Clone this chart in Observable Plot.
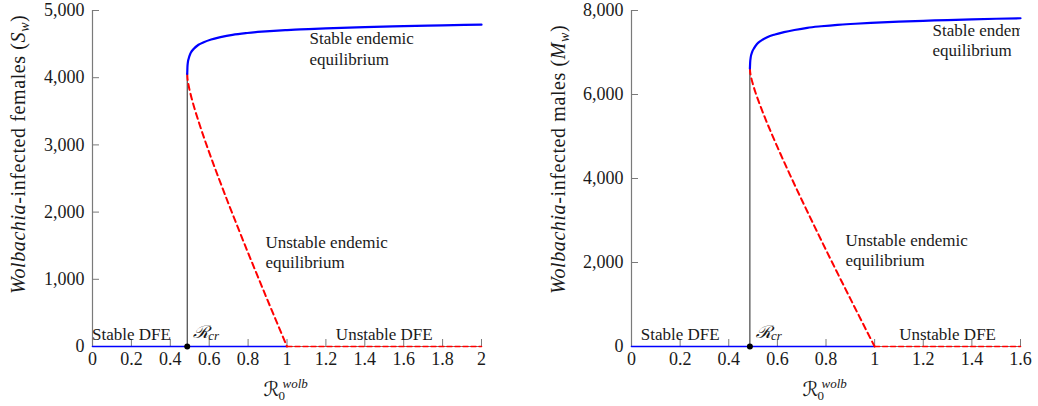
<!DOCTYPE html>
<html>
<head>
<meta charset="utf-8">
<script src="https://cdn.jsdelivr.net/npm/d3@7"></script>
<script src="https://cdn.jsdelivr.net/npm/@observablehq/plot@0.6"></script>
<style>
  html, body { margin: 0; padding: 0; background: #fff; }
  #charts { display: flex; width: 1038px; height: 406px; }
  #charts svg { display: block; }
  #charts svg text {
    font-family: "Liberation Serif", "Tinos", "Times New Roman", "Nimbus Roman", "FreeSerif",
                 "Noto Serif", "DejaVu Serif", "Latin Modern Roman", "CMU Serif", Georgia, serif;
  }
  #charts svg text.script { font-family: "DejaVu Sans", "DejaVu Serif", sans-serif; }
</style>
</head>
<body>
<div id="charts"></div>
<script>
// Critical value of R0^wolb where the two endemic equilibria are born
const rCritical = 0.487;

// Wolbachia-infected females S_w — stable endemic branch
const femStableR = [0.487, 0.488, 0.490, 0.495, 0.505, 0.521, 0.545, 0.572, 0.61, 0.658, 0.72, 0.795, 0.87, 0.932, 1.0, 1.069, 1.2, 1.4, 1.6, 1.8, 2.0];
const femStableS = [4055, 4150, 4220, 4290, 4370, 4430, 4490, 4528, 4568, 4603, 4638, 4665, 4685, 4698, 4709, 4718, 4735, 4753, 4767, 4779, 4790];
// Females — unstable endemic branch
const femUnstableR = [0.487, 0.488, 0.490, 0.494, 0.50, 0.51, 0.525, 0.55, 0.6, 0.65, 0.7, 0.75, 0.8, 0.85, 0.9, 0.95, 1.0];
const femUnstableS = [4055, 4001, 3954, 3887, 3805, 3690, 3538, 3308, 2888, 2497, 2120, 1753, 1393, 1040, 689, 343, 0];

// Wolbachia-infected males M_w — stable endemic branch
const maleStableR = [0.487, 0.488, 0.490, 0.496, 0.505, 0.517, 0.535, 0.558, 0.59, 0.627, 0.67, 0.723, 0.78, 0.847, 0.92, 0.984, 1.1, 1.2, 1.3, 1.4, 1.5, 1.6];
const maleStableM = [6620, 6760, 6870, 7008, 7110, 7207, 7290, 7365, 7430, 7484, 7535, 7588, 7625, 7660, 7685, 7705, 7735, 7755, 7772, 7788, 7803, 7815];
// Males — unstable endemic branch
const maleUnstableR = [0.487, 0.488, 0.490, 0.494, 0.50, 0.51, 0.525, 0.55, 0.6, 0.65, 0.7, 0.75, 0.8, 0.85, 0.9, 0.95, 1.0];
const maleUnstableM = [6620, 6538, 6465, 6360, 6232, 6048, 5804, 5432, 4752, 4112, 3494, 2892, 2299, 1716, 1139, 567, 0];

// Disease-free equilibrium: stable below 1, unstable above
const dfeStableR = [0, 1];
const femDfeUnstableR = [1, 2];
const maleDfeUnstableR = [1, 1.6];

// Tick values
const femXTicks = [0, 0.2, 0.4, 0.6, 0.8, 1, 1.2, 1.4, 1.6, 1.8, 2];
const femYTicks = [0, 1000, 2000, 3000, 4000, 5000];
const maleXTicks = [0, 0.2, 0.4, 0.6, 0.8, 1, 1.2, 1.4, 1.6];
const maleYTicks = [0, 2000, 4000, 6000, 8000];

const zip = (xs, ys) => xs.map((x, i) => ({x, y: ys[i]}));
const axisGray = "#7a7a7a";
const ink = "#1a1a1a";

function panel(cfg) {
  const {width, marginLeft, marginRight, xMax, yMax, xTicks, yTicks,
         stable, unstable, dfeUnstableR, notes} = cfg;
  const fold = stable[0].y;
  return Plot.plot({
    width, height: 406,
    marginLeft, marginRight, marginTop: 10, marginBottom: 60,
    style: {fontSize: "18px", color: ink, background: "white", overflow: "visible"},
    x: {domain: [0, xMax]},
    y: {domain: [0, yMax]},
    marks: [
      // axis lines
      Plot.ruleX([0], {stroke: axisGray, strokeWidth: 1.2}),
      Plot.ruleY([0], {stroke: axisGray, strokeWidth: 1.2}),
      // inward ticks
      Plot.ruleX(xTicks, {x: d => d, y1: 0, y2: 0, insetBottom: 7, stroke: axisGray}),
      Plot.ruleY(yTicks, {y: d => d, x1: 0, x2: 0, insetRight: -7, stroke: axisGray}),
      Plot.axisX(xTicks, {tickSize: 0, tickPadding: 6, label: null, fontSize: 18, fill: ink,
                          tickFormat: d3.format("~g")}),
      Plot.axisY(yTicks, {tickSize: 0, tickPadding: 8, label: null, fontSize: 18, fill: ink,
                          tickFormat: d3.format(",")}),
      // threshold line up to the fold
      Plot.ruleX([rCritical], {y1: 0, y2: fold, stroke: "#222", strokeWidth: 1}),
      // disease-free equilibrium
      Plot.lineY(zip(dfeStableR, [0, 0]), {x: "x", y: "y", stroke: "#0000ff", strokeWidth: 1.6}),
      Plot.lineY(zip(dfeUnstableR, [0, 0]), {x: "x", y: "y", stroke: "#ff0000", strokeWidth: 1.6, strokeDasharray: "5,3"}),
      // endemic equilibria
      Plot.line(unstable, {x: "x", y: "y", stroke: "#ff0000", strokeWidth: 2, strokeDasharray: "6,4", curve: "monotone-x"}),
      Plot.line(stable, {x: "x", y: "y", stroke: "#0000ff", strokeWidth: 2.2, curve: "monotone-x"}),
      Plot.dot([rCritical], {x: d => d, y: 0, r: 3, fill: "#000"}),
      // region labels
      Plot.text(["Stable DFE"], {x: 0.2, y: 0, dy: -7, lineAnchor: "bottom", fontSize: 17, fill: ink}),
      Plot.text(["Unstable DFE"], {x: notes.unstableDfeX, y: 0, dy: -7, lineAnchor: "bottom", fontSize: 17, fill: ink}),
      Plot.text(["ℛ"], {x: rCritical, y: 0, dx: 6, dy: -9, textAnchor: "start", lineAnchor: "bottom", fontSize: 18, fontStyle: "italic", fill: ink, className: "script"}),
      Plot.text(["cr"], {x: rCritical, y: 0, dx: 21, dy: -7, textAnchor: "start", lineAnchor: "bottom", fontSize: 13, fontStyle: "italic", fill: ink}),
      Plot.text(["Stable endemic\nequilibrium"], {x: notes.stable[0], y: notes.stable[1], textAnchor: "start", lineAnchor: "bottom", lineHeight: 1.18, fontSize: 17, fill: ink, clip: true}),
      Plot.text(["Unstable endemic\nequilibrium"], {x: notes.unstable[0], y: notes.unstable[1], textAnchor: "start", lineAnchor: "bottom", lineHeight: 1.18, fontSize: 17, fill: ink})
    ]
  });
}

// x-axis title  ℛ₀^wolb
function addXTitle(svg, cx) {
  const g = d3.select(svg).append("g").attr("fill", ink).attr("text-anchor", "start");
  g.append("text").attr("class", "script").attr("x", cx - 23).attr("y", 396)
    .attr("font-style", "italic").attr("font-size", 20).text("ℛ");
  g.append("text").attr("x", cx - 4).attr("y", 388)
    .attr("font-style", "italic").attr("font-size", 13).text("wolb");
  g.append("text").attr("x", cx - 8).attr("y", 400)
    .attr("font-size", 13).text("0");
}

// y-axis title: Wolbachia-infected <who> (<sym>_w)
function addYTitle(svg, x, yBottom, who, sym) {
  const t = d3.select(svg).append("text")
    .attr("transform", `translate(${x},${yBottom}) rotate(-90)`)
    .attr("text-anchor", "start").attr("font-size", 20).attr("letter-spacing", 0.6).attr("fill", ink);
  t.append("tspan").attr("font-style", "italic").text("Wolbachia");
  t.append("tspan").text(`-infected ${who} (`);
  t.append("tspan").attr("font-style", "italic").text(sym);
  t.append("tspan").attr("font-style", "italic").attr("font-size", 14).attr("dy", 4).text("w");
  t.append("tspan").attr("dy", -4).text(")");
}

const left = panel({
  width: 520, marginLeft: 92, marginRight: 39, xMax: 2, yMax: 5000,
  xTicks: femXTicks, yTicks: femYTicks,
  stable: zip(femStableR, femStableS), unstable: zip(femUnstableR, femUnstableS),
  dfeUnstableR: femDfeUnstableR,
  notes: {stable: [1.116, 4196], unstable: [0.889, 1161], unstableDfeX: 1.5}
});
addXTitle(left, 286.5);
addYTitle(left, 25, 294, "females", "S");

const right = panel({
  width: 518, marginLeft: 111, marginRight: 18, xMax: 1.6, yMax: 8000,
  xTicks: maleXTicks, yTicks: maleYTicks,
  stable: zip(maleStableR, maleStableM), unstable: zip(maleUnstableR, maleUnstableM),
  dfeUnstableR: maleDfeUnstableR,
  notes: {stable: [1.238, 6917], unstable: [0.880, 1905], unstableDfeX: 1.3}
});
addXTitle(right, 305.5);
addYTitle(right, 45, 294, "males", "M");

document.getElementById("charts").append(left, right);
</script>
</body>
</html>
